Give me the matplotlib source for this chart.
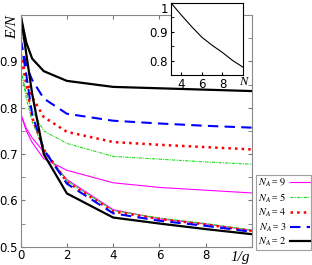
import matplotlib.pyplot as plt
from matplotlib.ticker import MultipleLocator

plt.rcParams['mathtext.fontset'] = 'stix'

inv_g = [0, 0.25, 0.5, 1, 2, 4, 6, 8, 10]

# upper branches
up_2 = [1.0, 0.94, 0.906, 0.879, 0.858, 0.845, 0.842, 0.839, 0.836]
up_3 = [0.947, 0.89, 0.86, 0.82, 0.787, 0.772, 0.766, 0.761, 0.757]
up_4 = [0.917, 0.86, 0.823, 0.78, 0.748, 0.726, 0.72, 0.715, 0.71]
up_5 = [0.884, 0.83, 0.795, 0.75, 0.723, 0.695, 0.689, 0.683, 0.678]
up_9 = [0.787, 0.75, 0.725, 0.69, 0.665, 0.638, 0.628, 0.622, 0.616]

# lower branches
lo_2 = [1.0, 0.915, 0.83, 0.70, 0.615, 0.563, 0.550, 0.538, 0.527]
lo_3 = [0.947, 0.87, 0.785, 0.71, 0.636, 0.572, 0.556, 0.545, 0.532]
lo_4 = [0.917, 0.85, 0.78, 0.71, 0.640, 0.576, 0.560, 0.548, 0.534]
lo_5 = [0.884, 0.82, 0.77, 0.71, 0.642, 0.578, 0.562, 0.550, 0.536]
lo_9 = [0.787, 0.755, 0.735, 0.705, 0.645, 0.580, 0.560, 0.549, 0.535]

# inset
n_vals = [3, 4, 5, 6, 7, 8, 9, 10]
inset_e = [1.0, 0.958, 0.918, 0.881, 0.853, 0.828, 0.80, 0.777]

fig = plt.figure(figsize=(3.12, 2.65), dpi=100)
ax = fig.add_axes([0.066, 0.069, 0.742, 0.874])

styles = [
    ('magenta', '-', 0.8, up_9, lo_9, '9'),
    ('#22dd22', (0, (3, 1, 1, 1)), 0.8, up_5, lo_5, '5'),
    ('red', ':', 1.8, up_4, lo_4, '4'),
    ('blue', (0, (5, 3)), 1.5, up_3, lo_3, '3'),
    ('black', '-', 1.6, up_2, lo_2, '2'),
]
for c, ls, lw, up, lo, lab in styles:
    ax.plot(inv_g, up, color=c, ls=ls, lw=lw, label=r'$N_A$= ' + r'$\mathit{' + lab + '}$')
    ax.plot(inv_g, lo, color=c, ls=ls, lw=lw)

ax.set_xlim(0, 10)
ax.set_ylim(0.5, 1.0)
ax.set_xticks([0, 2, 4, 6, 8])
ax.set_yticks([0.5, 0.6, 0.7, 0.8, 0.9])
ax.yaxis.set_minor_locator(MultipleLocator(0.05))
ax.tick_params(which='both', direction='in', top=True, right=True, length=3,
               labelsize=8.5, pad=2, color='#777777')
for s in ax.spines.values():
    s.set_color('#888888')
    s.set_linewidth(0.8)
ax.text(-0.035, 1.0, 'E/N', transform=ax.transAxes, rotation=90, ha='center', va='top',
        fontsize=11, family='Liberation Serif', style='italic')
ax.text(0.95, -0.018, '1/g', transform=ax.transAxes, ha='center', va='top',
        fontsize=11, family='Liberation Serif', style='italic')

leg = fig.legend(loc='upper right', bbox_to_anchor=(0.997, 0.34), frameon=True,
                 markerfirst=False, handlelength=1.9, handletextpad=0.3, borderpad=0.15,
                 labelspacing=0.2, borderaxespad=0, fancybox=False,
                 prop={'family': 'Liberation Serif', 'style': 'italic', 'size': 7.5})
leg.get_frame().set_edgecolor('#888888')
leg.get_frame().set_linewidth(0.8)

ins = fig.add_axes([0.548, 0.717, 0.231, 0.272])
ins.plot(n_vals, inset_e, color='black', lw=0.8)
ins.set_xlim(3, 10)
ins.set_ylim(0.75, 1.0)
ins.set_xticks([4, 6, 8])
ins.set_yticks([0.8, 0.9, 1.0])
ins.set_yticklabels(['0.8', '0.9', '1'])
ins.get_yticklabels()[-1].set_verticalalignment('top')
ins.yaxis.set_minor_locator(MultipleLocator(0.05))
ins.tick_params(which='both', direction='in', length=2, labelsize=8.5, pad=2)
ins.text(10, 0.745, 'N', ha='center', va='top', fontsize=9,
         family='Liberation Serif', style='italic')

fig.savefig('out.png', dpi=100)
